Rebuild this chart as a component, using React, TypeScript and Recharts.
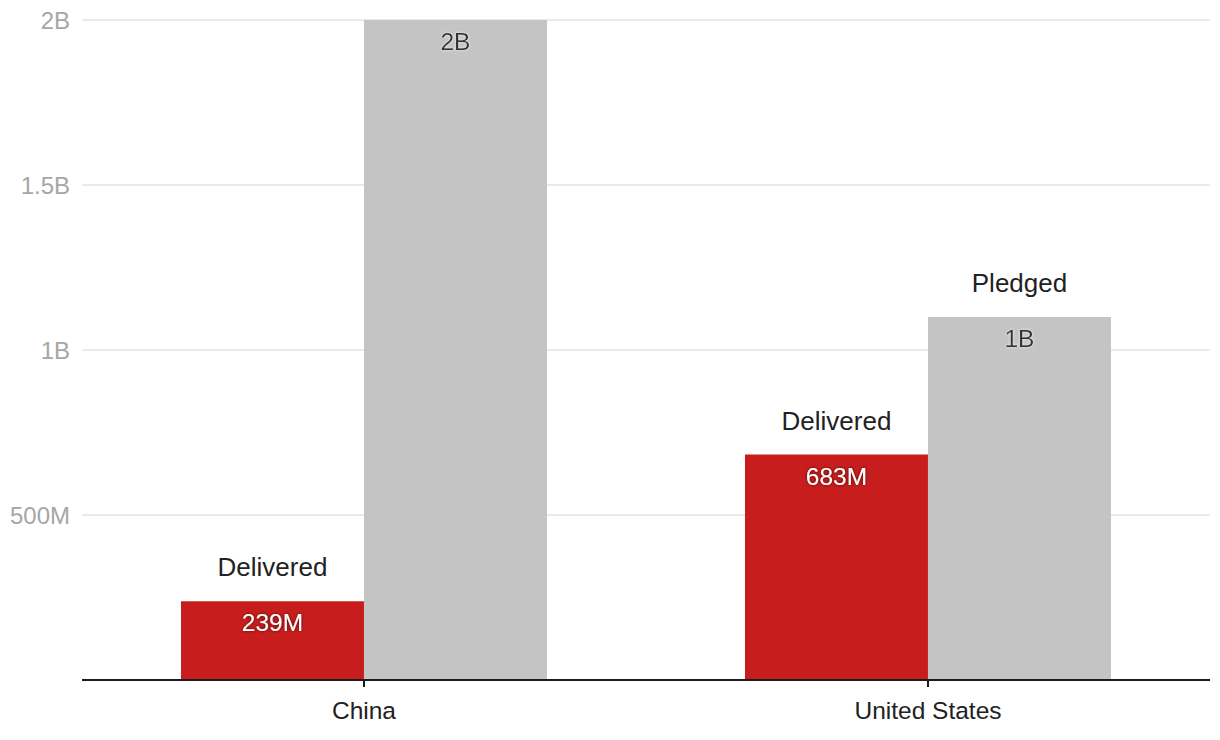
import React from 'react'
import { BarChart, Bar, XAxis, YAxis, CartesianGrid, LabelList } from 'recharts'

const categories = ['China', 'United States']
const delivered = [239000000, 683000000]
const pledged = [2000000000, 1100000000]
const yTicks = [0, 500000000, 1000000000, 1500000000, 2000000000]

const data = categories.map((name, i) => ({
  name,
  delivered: delivered[i],
  pledged: pledged[i],
}))

const FONT = '"Liberation Sans", Arial, Helvetica, sans-serif'

function fmt(v: number) {
  if (v === 0) return ''
  if (v >= 1e9) return `${Math.round((v / 1e9) * 10) / 10}B`.replace('.0B', 'B')
  return `${Math.round(v / 1e6)}M`
}

function fmtBar(v: number) {
  if (v >= 1e9) return `${Math.round(v / 1e9)}B`
  return `${Math.round(v / 1e6)}M`
}

function makeLabel(title: string, dark: boolean) {
  return (props: any) => {
    const { x, y, width, value, index } = props
    const cx = Number(x) + Number(width) / 2
    const top = Number(y)
    const fid = `shadow-${title}-${index}`
    return (
      <g>
        <defs>
          <filter id={fid} x="-20%" y="-40%" width="140%" height="180%">
            <feDropShadow
              dx="0"
              dy="0"
              stdDeviation="1.5"
              floodColor={dark ? '#000' : '#fff'}
              floodOpacity={dark ? 0.7 : 0.8}
            />
          </filter>
        </defs>
        {top - 25 > 24 && (
          <text x={cx} y={top - 25} textAnchor="middle" fill="#222" fontSize={26} fontFamily={FONT}>
            {title}
          </text>
        )}
        <text
          x={cx}
          y={top + 30}
          textAnchor="middle"
          fill={dark ? '#fff' : '#333'}
          fontSize={24.5}
          fontFamily={FONT}
          filter={`url(#${fid})`}
        >
          {fmtBar(Number(value))}
        </text>
      </g>
    )
  }
}

export default function App() {
  return (
    <div style={{ position: 'absolute', left: 0, top: 0, background: '#fff' }}>
      <BarChart
        width={1220}
        height={740}
        data={data}
        margin={{ top: 20, right: 10, left: 0, bottom: 0 }}
        barCategoryGap="17.55%"
        barGap={0}
        style={{ fontFamily: FONT }}
      >
        <CartesianGrid vertical={false} stroke="#e3e3e3" strokeWidth={1.5} />
        <XAxis
          dataKey="name"
          height={60}
          axisLine={{ stroke: '#1a1a1a', strokeWidth: 2 }}
          tickLine={{ stroke: '#1a1a1a', strokeWidth: 2 }}
          tickSize={7}
          tickMargin={15}
          tick={{ fill: '#222', fontSize: 24.5 }}
        />
        <YAxis
          width={82}
          domain={[0, 2000000000]}
          ticks={yTicks}
          tickFormatter={fmt}
          axisLine={false}
          tickLine={false}
          tickMargin={6}
          tick={{ fill: '#a6a6a6', fontSize: 24 }}
        />
        <Bar dataKey="delivered" fill="#c71e1d" isAnimationActive={false}>
          <LabelList dataKey="delivered" content={makeLabel('Delivered', true)} />
        </Bar>
        <Bar dataKey="pledged" fill="#c4c4c4" isAnimationActive={false}>
          <LabelList dataKey="pledged" content={makeLabel('Pledged', false)} />
        </Bar>
      </BarChart>
    </div>
  )
}
